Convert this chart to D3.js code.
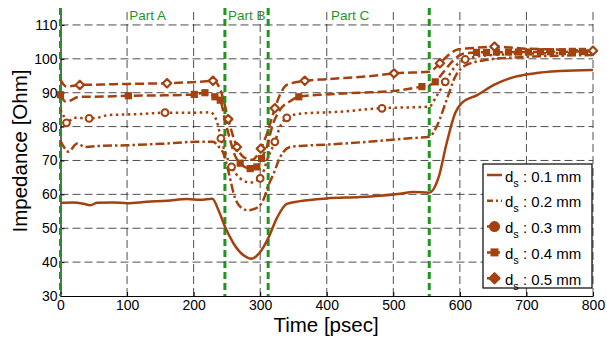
<!DOCTYPE html>
<html>
<head>
<meta charset="utf-8">
<script src="https://cdn.jsdelivr.net/npm/d3@7"></script>
<style>
body { margin: 0; background: #fff; }
svg { font-family: "Liberation Sans", Arial, Helvetica, sans-serif; }
.tick text { font-size: 14px; fill: #000; }
.grid line { stroke: #222; stroke-width: 0.8; stroke-dasharray: 8,4; }
</style>
</head>
<body>
<div class="graph"></div>
<script>
// courbes : [temps psec, impedance Ohm]
var d01 = [[0,57.5],[20,57.6],[35,57.2],[45,56.8],[55,57.5],[80,57.6],[100,57.4],[130,57.8],[160,58.1],[190,58.6],[210,58.4],[228,58.7],[238,55],[247,50.5],[260,45.5],[275,42],[287,41],[298,42.5],[312,47],[325,53],[340,57.2],[360,58],[400,58.8],[450,59.2],[480,59.6],[510,60.2],[530,60.7],[554,60.5],[568,65],[580,75],[593,84],[603,87],[626,89.3],[651,92.3],[681,94.6],[711,95.7],[751,96.4],[800,96.7]];
var d02 = [[0,75.8],[5,74],[12,72.6],[25,75],[37,74],[60,74.3],[100,74.5],[150,74.9],[205,75.5],[229,75.5],[238,74],[245,72],[252,67],[262,59],[272,56],[282,55.3],[297,56.3],[305,58.5],[312,62.5],[320,66],[330,71],[345,74],[360,74.3],[400,74.7],[480,75.8],[520,76.5],[554,77],[566,80.4],[580,87.8],[593,94.7],[610,98.2],[641,99.7],[681,100.4],[800,101.1]];
var d03 = [[0,85],[5,83],[9,81.1],[20,82.6],[43,82.4],[60,82.8],[72,83.4],[120,83.7],[157,84.1],[200,84.1],[225,84.2],[235,81.5],[241,76.5],[247,72.6],[257,68.1],[270,64.7],[285,63.5],[300,64.7],[312,71],[322,75.5],[330,80],[340,82.6],[360,83.8],[420,84.4],[480,85.4],[554,85.9],[565,89],[578,93.2],[592,97.5],[608,99.8],[640,101],[700,101.5],[800,101.8]];
var d04 = [[0,89.4],[4,88],[8,87.3],[29,88.8],[50,88.8],[102,89.1],[150,89.2],[201,89.5],[217,90],[225,89.5],[232,88.8],[240,87.8],[247,82],[255,76],[262,71.5],[270,69.2],[285,67.6],[295,68.1],[302,70.6],[310,74],[318,80],[330,85],[345,87.5],[358,88.8],[400,89.5],[450,90],[500,90.5],[543,91.8],[554,92.2],[563,93.2],[575,96],[590,99.5],[605,101.5],[630,101.9],[700,102],[800,102.2]];
var d05 = [[0,93.8],[9,91.8],[29,92.3],[60,92.4],[100,92.6],[160,92.8],[205,93.2],[229,93.5],[240,91],[245,87.8],[252,82.2],[258,78],[265,74],[275,71],[288,70.2],[301,73.5],[312,79],[322,85.4],[330,89.5],[340,92.3],[367,93.5],[400,94],[480,95.2],[501,95.7],[554,96.2],[570,98.7],[585,101.5],[598,102.8],[620,103.2],[652,103.6],[700,103],[750,102.7],[800,102.4]];

// marqueurs
var m03 = [[9,81.1],[43,82.4],[157,84.1],[241,76.5],[257,68.1],[300,64.7],[322,75.5],[340,82.6],[483,85.4],[578,93.2],[608,99.8]];
var m04 = [[0,89.4],[102,89.1],[201,89.5],[217,90],[232,88.8],[240,87.8],[270,69.2],[285,67.6],[295,68.1],[302,70.6],[358,88.8],[543,91.8],[563,93.2],[625,101.9],[640,101.9],[655,102],[673,102],[688,102],[703,102],[721,102.1],[736,102.1],[754,102.1],[769,102.2],[784,102.2]];
var m05 = [[29,92.3],[160,92.8],[229,93.5],[252,82.2],[265,74],[301,73.5],[322,85.4],[367,93.5],[501,95.7],[570,98.7],[652,103.6],[800,102.4]];

var legendLabels = ["0.1 mm", "0.2 mm", "0.3 mm", "0.4 mm", "0.5 mm"];
var partLabels = ["Part A", "Part B", "Part C"];
var partCenters = [131, 280, 435];
var partBounds = [0, 247, 312, 554];
var xTicks = [0, 100, 200, 300, 400, 500, 600, 700, 800];
var yTicks = [30, 40, 50, 60, 70, 80, 90, 100, 110];

var width = 607, height = 341;
var brown = "#a3420f", green = "#1f961f";

var svg = d3.select(".graph").append("svg")
	.attr("width", width)
	.attr("height", height);

var x = d3.scaleLinear().domain([0, 800]).range([60.5, 593]);
var y = d3.scaleLinear().domain([30, 115]).range([296, 8]);

// grille
var grid = svg.append("g").attr("class", "grid");
grid.selectAll(".gx").data(xTicks.slice(1)).enter().append("line")
	.attr("x1", function(d){ return x(d); }).attr("x2", function(d){ return x(d); })
	.attr("y1", y(30)).attr("y2", y(115));
grid.selectAll(".gy").data(yTicks.slice(1)).enter().append("line")
	.attr("x1", x(0)).attr("x2", x(800))
	.attr("y1", function(d){ return y(d); }).attr("y2", function(d){ return y(d); });

// axes
svg.append("g")
	.attr("transform", "translate(0," + y(30) + ")")
	.call(d3.axisBottom(x).tickValues(xTicks).tickSizeInner(-4).tickSizeOuter(0).tickPadding(4))
	.call(function(g){ g.select(".domain").attr("stroke", "#000").attr("stroke-width", 1.2); });

svg.append("g")
	.attr("transform", "translate(" + x(0) + ",0)")
	.call(d3.axisLeft(y).tickValues(yTicks).tickSizeInner(-4).tickSizeOuter(0).tickPadding(3))
	.call(function(g){ g.select(".domain").attr("stroke", "#000").attr("stroke-width", 1.2); });

// limites des parties
svg.selectAll(".part-line").data(partBounds).enter().append("line")
	.attr("class", "part-line")
	.attr("x1", function(d){ return x(d); }).attr("x2", function(d){ return x(d); })
	.attr("y1", y(115)).attr("y2", y(30))
	.attr("stroke", green)
	.attr("stroke-width", 3)
	.attr("stroke-dasharray", "7,4");

svg.selectAll(".part-title").data(partLabels).enter().append("text")
	.attr("class", "part-title")
	.attr("x", function(d, i){ return x(partCenters[i]); })
	.attr("y", 20)
	.attr("text-anchor", "middle")
	.attr("font-size", 13.5)
	.attr("fill", green)
	.text(function(d){ return d; });

// courbes
var series = [
	{data: d01, dash: null},
	{data: d02, dash: "9,3,2.5,3"},
	{data: d03, dash: "2.5,3.5", marks: m03, shape: "circle"},
	{data: d04, dash: "9,4", marks: m04, shape: "square"},
	{data: d05, dash: "9,4", marks: m05, shape: "diamond"}
];

var valueline = d3.line()
	.x(function(d){ return x(d[0]); })
	.y(function(d){ return y(d[1]); })
	.curve(d3.curveMonotoneX);

series.forEach(function(s){
	svg.append("path")
		.datum(s.data)
		.attr("fill", "none")
		.attr("stroke", brown)
		.attr("stroke-width", 2.5)
		.attr("stroke-dasharray", s.dash)
		.attr("d", valueline);
});

function drawMark(g, shape, filled){
	if(shape == "circle"){
		g.append("circle").attr("r", filled ? 4.5 : 3.4)
			.attr("fill", filled ? brown : "#fff")
			.attr("stroke", brown).attr("stroke-width", 2);
	} else if(shape == "square"){
		var h = filled ? 4 : 3.6;
		g.append("rect").attr("x", -h).attr("y", -h).attr("width", 2 * h).attr("height", 2 * h)
			.attr("fill", brown);
	} else if(shape == "diamond"){
		var r = filled ? 5 : 4.2;
		g.append("path").attr("d", "M0," + (-r) + "L" + r + ",0L0," + r + "L" + (-r) + ",0Z")
			.attr("fill", filled ? brown : "#fff")
			.attr("stroke", brown).attr("stroke-width", 2.2)
			.attr("stroke-linejoin", "round");
	}
}

series.forEach(function(s){
	if(!s.marks) return;
	s.marks.forEach(function(m){
		var g = svg.append("g").attr("transform", "translate(" + x(m[0]) + "," + y(m[1]) + ")");
		drawMark(g, s.shape, false);
	});
});

// legende
var legend = svg.append("g").attr("transform", "translate(483,164)");
legend.append("rect")
	.attr("width", 109).attr("height", 124)
	.attr("fill", "#fff").attr("stroke", "#000").attr("stroke-width", 1.2);

series.forEach(function(s, i){
	var ly = 11 + i * 25.8;
	var item = legend.append("g").attr("transform", "translate(0," + ly + ")");
	item.append("line")
		.attr("x1", 4).attr("x2", 19)
		.attr("stroke", brown).attr("stroke-width", 2.5)
		.attr("stroke-dasharray", i == 1 ? "6,3,2,3" : (s.dash ? "5,3" : null));
	if(s.shape){
		var mk = item.append("g").attr("transform", "translate(11.5,0)");
		drawMark(mk, s.shape, true);
	}
	var t = item.append("text").attr("x", 22).attr("y", 6.5).attr("font-size", 15);
	t.append("tspan").text("d");
	t.append("tspan").attr("dy", 5).attr("font-size", 11).text("s");
	t.append("tspan").attr("dy", -5).text(" : " + legendLabels[i]);
});

// titres des axes
svg.append("text")
	.attr("x", 326).attr("y", 332)
	.attr("text-anchor", "middle")
	.attr("font-size", 20.5)
	.text("Time [psec]");

svg.append("text")
	.attr("transform", "translate(27,151) rotate(-90)")
	.attr("text-anchor", "middle")
	.attr("font-size", 20.5)
	.text("Impedance [Ohm]");
</script>
</body>
</html>
